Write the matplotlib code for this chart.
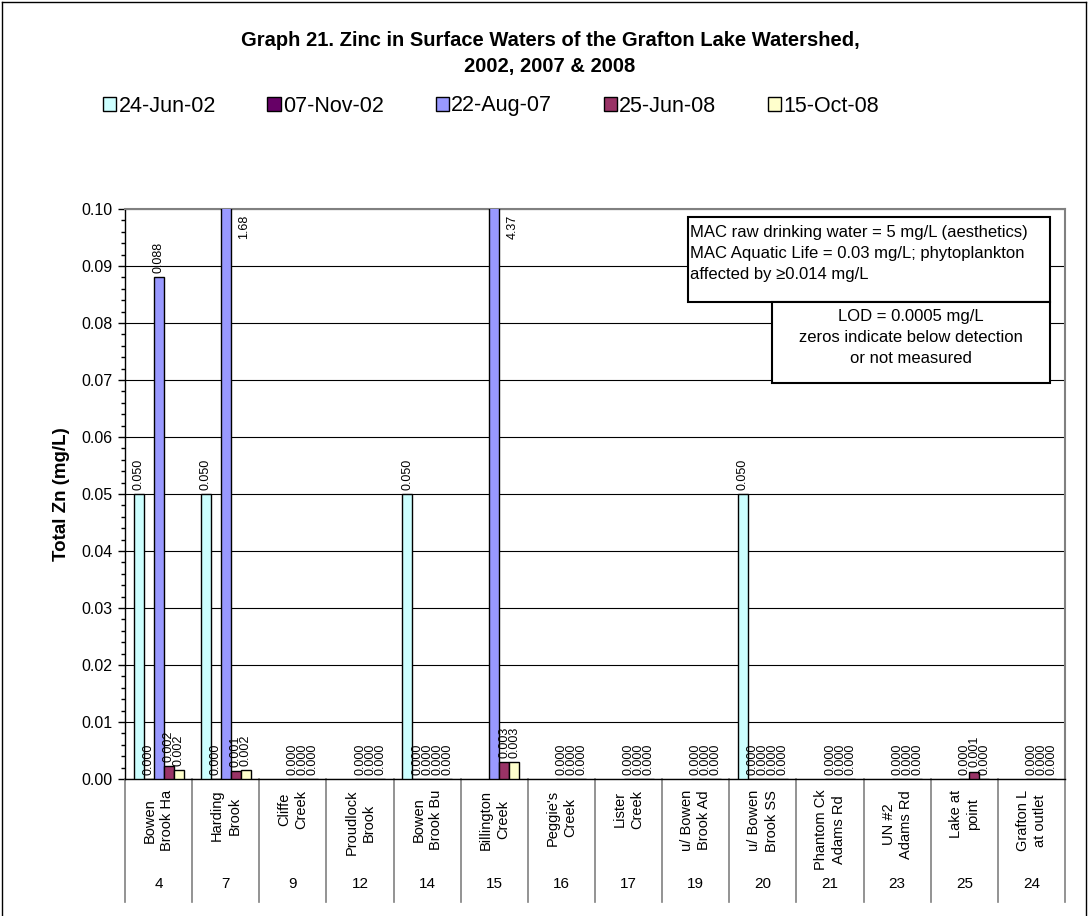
import numpy as np
import matplotlib
matplotlib.use("Agg")
import matplotlib.pyplot as plt
from matplotlib.patches import Rectangle
from matplotlib.lines import Line2D
from matplotlib.ticker import MultipleLocator, FormatStrFormatter

plt.rcParams['font.family'] = ['Liberation Sans', 'DejaVu Sans']

# Sampling sites (name and site number)
sites = ["Bowen\nBrook Ha", "Harding\nBrook", "Cliffe\nCreek", "Proudlock\nBrook",
         "Bowen\nBrook Bu", "Billington\nCreek", "Peggie's\nCreek", "Lister\nCreek",
         "u/ Bowen\nBrook Ad", "u/ Bowen\nBrook SS", "Phantom Ck\nAdams Rd",
         "UN #2\nAdams Rd", "Lake at\npoint", "Grafton L\nat outlet"]
site_numbers = ["4", "7", "9", "12", "14", "15", "16", "17", "19", "20", "21", "23", "25", "24"]

nan = np.nan
# Total zinc (mg/L) per sampling date; nan = no sample
jun02 = [0.050, 0.050, nan, nan, 0.050, nan, nan, nan, nan, 0.050, nan, nan, nan, nan]
nov02 = [0.0, 0.0, nan, nan, 0.0, nan, nan, nan, nan, 0.0, nan, nan, nan, nan]
aug07 = [0.088, 1.68, 0.0, 0.0, 0.0, 4.37, 0.0, 0.0, 0.0, 0.0, 0.0, 0.0, 0.0, 0.0]
jun08 = [0.0022, 0.0014, 0.0, 0.0, 0.0, 0.003, 0.0, 0.0, 0.0, 0.0, 0.0, 0.0, 0.0013, 0.0]
oct08 = [0.0016, 0.0016, 0.0, 0.0, 0.0, 0.003, 0.0, 0.0, 0.0, 0.0, 0.0, 0.0, 0.0, 0.0]

series = [jun02, nov02, aug07, jun08, oct08]
series_names = ["24-Jun-02", "07-Nov-02", "22-Aug-07", "25-Jun-08", "15-Oct-08"]
colors = ["#CCFFFF", "#660066", "#9999FF", "#993366", "#FFFFCC"]

ymax = 0.10

fig = plt.figure(figsize=(10.88, 9.16), dpi=100)
ax = fig.add_axes([0.1149, 0.1496, 0.8640, 0.6223])

x = np.arange(len(sites))
w = 0.149
handles = []
for i, (vals, name, col) in enumerate(zip(series, series_names, colors)):
    vals = np.array(vals, dtype=float)
    pos = x + (i - 2) * w
    bars = ax.bar(pos, np.nan_to_num(vals), width=w, color=col, edgecolor='black',
                  linewidth=1.0, label=name, zorder=3)
    handles.append(bars)
    for p, v, b in zip(pos, vals, bars):
        if np.isnan(v):
            b.set_visible(False)
            continue
        txt = f"{v:.2f}" if v >= 1 else f"{v:.3f}"
        if v > ymax:
            ax.annotate(txt, (p, ymax), xytext=(13, -4), textcoords='offset points',
                        rotation=90, ha='center', va='top', fontsize=9, zorder=5)
        else:
            ax.annotate(txt, (p, v), xytext=(0, 3), textcoords='offset points',
                        rotation=90, ha='center', va='bottom', fontsize=9, zorder=5)

ax.set_xlim(-0.5, len(sites) - 0.5)
ax.set_ylim(0, ymax)
ax.set_xticks([])
ax.yaxis.set_major_locator(MultipleLocator(0.01))
ax.yaxis.set_minor_locator(MultipleLocator(0.002))
ax.yaxis.set_major_formatter(FormatStrFormatter('%.2f'))
ax.tick_params(axis='y', which='major', direction='out', length=5, width=1,
               labelsize=11.5, pad=4)
ax.tick_params(axis='y', which='minor', direction='out', length=3, width=1)
ax.yaxis.grid(True, color='black', linewidth=0.8)
ax.set_axisbelow(True)
for s in ['top', 'right']:
    ax.spines[s].set_color('#808080')
    ax.spines[s].set_linewidth(1.5)
for s in ['left', 'bottom']:
    ax.spines[s].set_color('black')
    ax.spines[s].set_linewidth(1.0)

ax.set_ylabel("Total Zn (mg/L)", fontsize=13.5, fontweight='bold', labelpad=8)

# Category axis: separators, site names and site numbers
xt = ax.get_xaxis_transform()
for b in np.arange(len(sites) + 1) - 0.5:
    ax.add_line(Line2D([b, b], [0, -0.216], transform=xt, color='#808080',
                       linewidth=1.2, clip_on=False))
for xi, name, num in zip(x, sites, site_numbers):
    ax.text(xi, -0.019, name, transform=xt, rotation=90, ha='center', va='top',
            multialignment='center', fontsize=10.5, linespacing=1.3)
    ax.text(xi, -0.184, num, transform=xt, ha='center', va='center', fontsize=11)

# Guideline note boxes
ax.add_patch(Rectangle((0.599, 0.837), 0.385, 0.149, transform=ax.transAxes,
                       facecolor='white', edgecolor='black', linewidth=1.5, zorder=6))
ax.add_patch(Rectangle((0.688, 0.695), 0.296, 0.142, transform=ax.transAxes,
                       facecolor='white', edgecolor='black', linewidth=1.5, zorder=6))
note1 = ["MAC raw drinking water = 5 mg/L (aesthetics)",
         "MAC Aquatic Life = 0.03 mg/L; phytoplankton",
         "affected by \u22650.014 mg/L"]
note2 = ["LOD = 0.0005 mg/L",
         "zeros indicate below detection",
         "or not measured"]
for k, line in enumerate(note1):
    ax.text(0.601, 0.959 - k * 0.037, line, transform=ax.transAxes, ha='left',
            va='center', fontsize=12, zorder=7)
for k, line in enumerate(note2):
    ax.text(0.836, 0.811 - k * 0.037, line, transform=ax.transAxes, ha='center',
            va='center', fontsize=12, zorder=7)

# Title and legend
fig.text(0.5055, 0.956, "Graph 21. Zinc in Surface Waters of the Grafton Lake Watershed,",
         ha='center', va='center', fontsize=14.5, fontweight='bold')
fig.text(0.5055, 0.927, "2002, 2007 & 2008", ha='center', va='center',
         fontsize=14.5, fontweight='bold')
fig.legend(handles=handles, labels=series_names, loc='center',
           bbox_to_anchor=(491 / 1088, 1 - 106 / 916), ncol=5, frameon=False,
           fontsize=15.5, handlelength=0.62, handleheight=0.62, handletextpad=0.1,
           columnspacing=2.4)

# Chart-area outline
for xs, ys in [([0.002, 0.002], [0.0, 0.998]), ([0.002, 0.998], [0.998, 0.998]),
               ([0.998, 0.998], [0.998, 0.0])]:
    fig.add_artist(Line2D(xs, ys, transform=fig.transFigure, color='black', linewidth=1))

fig.savefig("out.png", dpi=100)
